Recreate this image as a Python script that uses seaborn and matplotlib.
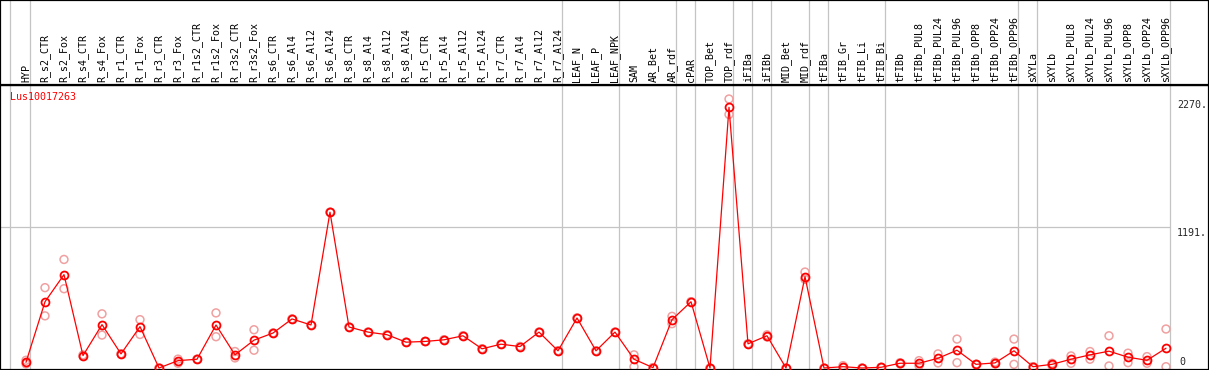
import numpy as np
import pandas as pd
import matplotlib
matplotlib.use("Agg")
import matplotlib.pyplot as plt
import seaborn as sns

samples = ["HYP", "R_s2_CTR", "R_s2_Fox", "R_s4_CTR", "R_s4_Fox", "R_r1_CTR", "R_r1_Fox",
           "R_r3_CTR", "R_r3_Fox", "R_r1s2_CTR", "R_r1s2_Fox", "R_r3s2_CTR", "R_r3s2_Fox",
           "R_s6_CTR", "R_s6_Al4", "R_s6_Al12", "R_s6_Al24", "R_s8_CTR", "R_s8_Al4", "R_s8_Al12",
           "R_s8_Al24", "R_r5_CTR", "R_r5_Al4", "R_r5_Al12", "R_r5_Al24", "R_r7_CTR", "R_r7_Al4",
           "R_r7_Al12", "R_r7_Al24", "LEAF_N", "LEAF_P", "LEAF_NPK", "SAM", "AR_Bet", "AR_rdf",
           "cPAR", "TOP_Bet", "TOP_rdf", "iFIBa", "iFIBb", "MID_Bet", "MID_rdf", "tFIBa",
           "tFIB_Gr", "tFIB_Li", "tFIB_Bi", "tFIBb", "tFIBb_PUL8", "tFIBb_PUL24", "tFIBb_PUL96",
           "tFIBb_OPP8", "tFIBb_OPP24", "tFIBb_OPP96", "sXYLa", "sXYLb", "sXYLb_PUL8",
           "sXYLb_PUL24", "sXYLb_PUL96", "sXYLb_OPP8", "sXYLb_OPP24", "sXYLb_OPP96"]

mean_vals = [48, 559, 788, 105, 366, 119, 349, 0, 62, 74, 363, 111, 235,
             295, 414, 363, 1315, 346, 303, 281, 218, 224, 238, 272, 162, 201, 181, 303, 145,
             422, 145, 303, 74, 3, 408, 559, 0, 2200, 204, 272, 0, 771, 0,
             11, 0, 6, 40, 40, 82, 150, 31, 43, 145, 11, 31, 74, 111, 142, 91, 65, 167]

rep_hi = [65, 678, 916, 110, 457, 119, 408, 0, 75, 74, 465, 139, 323,
          295, 414, 363, 1315, 346, 303, 281, 218, 224, 238, 272, 162, 201, 181, 303, 145,
          422, 145, 303, 111, 3, 436, 559, 0, 2270, 204, 280, 0, 810, 0,
          20, 0, 6, 45, 62, 119, 244, 31, 50, 244, 11, 40, 102, 139, 272, 125, 96, 329]

rep_lo = [35, 440, 669, 100, 278, 119, 283, 0, 40, 74, 264, 85, 150,
          295, 414, 363, 1315, 346, 303, 281, 218, 224, 238, 272, 162, 201, 181, 303, 145,
          422, 145, 303, 11, 3, 374, 559, 0, 2140, 204, 262, 0, 748, 0,
          5, 0, 6, 35, 20, 43, 45, 31, 36, 31, 11, 20, 40, 74, 17, 45, 40, 11]

group_ends = [0, 28, 31, 34, 35, 37, 38, 39, 41, 42, 45, 52, 53, 60]
ytick_vals = [2270, 1191, 0]
ytick_labels = ["2270.", "1191.", "0"]
gene = "Lus10017263"

W, H = 1209, 370
HEAD = 85
fig = plt.figure(figsize=(W / 100, H / 100), dpi=100)
sns.set_style("white")
plt.rcParams["font.family"] = ["DejaVu Sans Mono", "DejaVu Sans"]

ax = fig.add_axes([0, 0, 1, (H - HEAD) / H])
hx = fig.add_axes([0, (H - HEAD) / H, 1, HEAD / H])

x0px, dx = 26.0, 19.0
xl = ((0 - x0px) / dx, (W - x0px) / dx)
kpx = 269.0 / 2270.0
zero_px = 368.0
ylo = -(H - zero_px) / kpx
yhi = (zero_px - HEAD) / kpx

idx = np.arange(len(samples))
df = pd.DataFrame({"i": idx, "mean": mean_vals, "hi": rep_hi, "lo": rep_lo})
reps = pd.DataFrame({"i": np.concatenate([idx, idx]),
                     "v": np.concatenate([rep_hi, rep_lo])})

grid_c = "#c4c4c4"
vlines = [-16.0 / dx] + [g + 4.0 / dx for g in group_ends]
for a in (ax, hx):
    for v in vlines:
        a.axvline(v, color=grid_c, lw=0.9, zorder=0)
ax.plot([xl[0], vlines[-1]], [1191, 1191], color=grid_c, lw=0.9, zorder=0)

sns.scatterplot(data=reps, x="i", y="v", ax=ax, s=32, marker="o", color="#f0a0a0",
                linewidth=1.1, zorder=2, legend=False)
coll = ax.collections[-1]
coll.set_facecolor("none")
coll.set_edgecolor("#f0a0a0")

sns.lineplot(data=df, x="i", y="mean", ax=ax, color="red", lw=0.9, marker="o",
             markersize=5.7, markerfacecolor="none", markeredgecolor="red",
             markeredgewidth=1.3, zorder=3)

ax.set_xlim(*xl)
ax.set_ylim(ylo, yhi)
hx.set_xlim(*xl)
hx.set_ylim(0, 1)
for a in (ax, hx):
    a.set_xticks([])
    a.set_yticks([])
    a.set_xlabel("")
    a.set_ylabel("")
    for s in a.spines.values():
        s.set_color("black")
        s.set_linewidth(1.6)

for i, name in enumerate(samples):
    hx.text(i, 3.0 / HEAD, name, rotation=90, ha="center", va="bottom",
            fontsize=7.2, color="black")

lx = (1177 - x0px) / dx
for v, lab in zip(ytick_vals, ytick_labels):
    if v == 0:
        ax.text(lx + 0.1, v + 1.0 / kpx, lab, ha="left", va="bottom", fontsize=7.2)
    else:
        ax.text(lx, v - 1.0 / kpx, lab, ha="left", va="top", fontsize=7.2)

fig.text(10 / W, 1 - 97 / H, gene, color="red", ha="left", va="center", fontsize=7.2)

fig.savefig("out.png", dpi=100)
